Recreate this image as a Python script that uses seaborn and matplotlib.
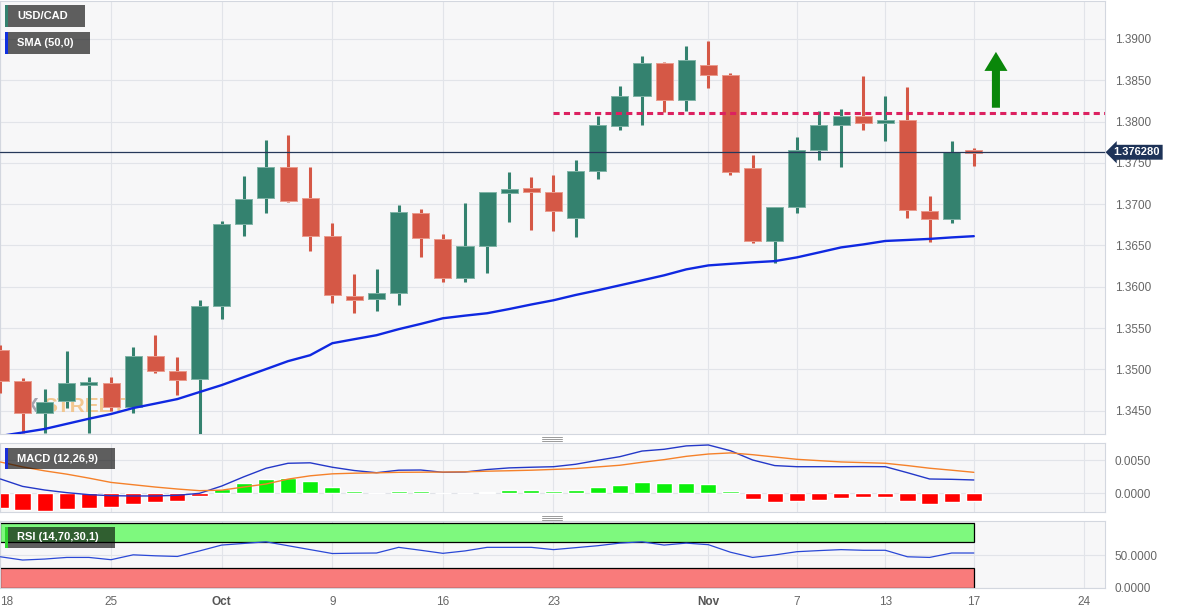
import matplotlib

matplotlib.use("Agg")
import matplotlib.pyplot as plt
import numpy as np
import seaborn as sns
from matplotlib.lines import Line2D
from matplotlib.patches import Rectangle

# --- daily USD/CAD, 18 Sep -> 17 Nov (trading days only) ---
tick_pos = [0, 5, 10, 15, 20, 25, 32, 36, 40, 44, 49]
tick_labels = ["18", "25", "Oct", "9", "16", "23", "Nov", "7", "13", "17", "24"]

opens = [1.35232, 1.34857, 1.34475, 1.34616, 1.34825, 1.34833, 1.34547, 1.35163, 1.34975, 1.34885,
         1.35767, 1.36762, 1.37071, 1.37446, 1.37076, 1.36609, 1.35888, 1.35856, 1.35929, 1.36890,
         1.36581, 1.36105, 1.36488, 1.37136, 1.37197, 1.37144, 1.36835, 1.37406, 1.37946, 1.38312,
         1.38707, 1.38263, 1.38690, 1.38562, 1.37438, 1.36552, 1.36971, 1.37656, 1.37958, 1.38070,
         1.37994, 1.38018, 1.36919, 1.36822, 1.37640]
highs = [1.35300, 1.34900, 1.34761, 1.35220, 1.34906, 1.34906, 1.35272, 1.35413, 1.35151, 1.35836,
         1.36790, 1.37345, 1.37780, 1.37841, 1.37454, 1.36774, 1.36158, 1.36219, 1.36992, 1.36935,
         1.36633, 1.37016, 1.37152, 1.37394, 1.37333, 1.37357, 1.37539, 1.38070, 1.38432, 1.38795,
         1.38722, 1.38915, 1.38976, 1.38586, 1.37599, 1.36971, 1.37816, 1.38130, 1.38151, 1.38545,
         1.38312, 1.38420, 1.37095, 1.37760, 1.37680]
lows = [1.34713, 1.34230, 1.34230, 1.34531, 1.34229, 1.34500, 1.34475, 1.34950, 1.34688, 1.34200,
        1.35606, 1.36612, 1.36895, 1.37023, 1.36431, 1.35803, 1.35687, 1.35707, 1.35784, 1.36359,
        1.36057, 1.36057, 1.36166, 1.36781, 1.36690, 1.36673, 1.36600, 1.37306, 1.37897, 1.37958,
        1.38118, 1.38130, 1.38405, 1.37354, 1.36528, 1.36291, 1.36890, 1.37539, 1.37454, 1.37901,
        1.37768, 1.36830, 1.36540, 1.36769, 1.37466]
closes = [1.34857, 1.34475, 1.34607, 1.34833, 1.34835, 1.34543, 1.35163, 1.34982, 1.34866, 1.35763,
          1.36754, 1.37064, 1.37446, 1.37043, 1.36612, 1.35900, 1.35836, 1.35920, 1.36902, 1.36593,
          1.36105, 1.36488, 1.37144, 1.37185, 1.37149, 1.36911, 1.37397, 1.37958, 1.38308, 1.38707,
          1.38263, 1.38746, 1.38565, 1.37394, 1.36552, 1.36963, 1.37651, 1.37953, 1.38070, 1.37977,
          1.38010, 1.36923, 1.36822, 1.37627, 1.37628]
sma50 = [1.34193, 1.34235, 1.34278, 1.34340, 1.34402, 1.34459, 1.34531, 1.34585, 1.34640, 1.34725,
         1.34809, 1.34906, 1.35002, 1.35099, 1.35171, 1.35316, 1.35365, 1.35413, 1.35486, 1.35550,
         1.35618, 1.35650, 1.35679, 1.35730, 1.35785, 1.35836, 1.35900, 1.35957, 1.36017, 1.36077,
         1.36138, 1.36210, 1.36258, 1.36277, 1.36295, 1.36310, 1.36355, 1.36415, 1.36476, 1.36512,
         1.36554, 1.36566, 1.36579, 1.36597, 1.36612]

macd = [0.00217, 0.00105, 0.00050, 0.00010, -0.00020, -0.00036, -0.00040, -0.00040, -0.00030, 0.00000,
        0.00110, 0.00250, 0.00379, 0.00455, 0.00462, 0.00395, 0.00345, 0.00312, 0.00350, 0.00353,
        0.00318, 0.00323, 0.00360, 0.00385, 0.00395, 0.00403, 0.00440, 0.00500, 0.00555, 0.00640,
        0.00667, 0.00718, 0.00732, 0.00645, 0.00505, 0.00420, 0.00403, 0.00403, 0.00403, 0.00405,
        0.00403, 0.00312, 0.00217, 0.00212, 0.00202]
signal = [0.00474, 0.00400, 0.00340, 0.00290, 0.00230, 0.00165, 0.00130, 0.00095, 0.00065, 0.00040,
          0.00048, 0.00095, 0.00141, 0.00215, 0.00265, 0.00295, 0.00305, 0.00310, 0.00318, 0.00320,
          0.00322, 0.00325, 0.00335, 0.00342, 0.00350, 0.00362, 0.00375, 0.00400, 0.00425, 0.00470,
          0.00510, 0.00560, 0.00595, 0.00612, 0.00585, 0.00550, 0.00515, 0.00495, 0.00475, 0.00465,
          0.00455, 0.00420, 0.00380, 0.00350, 0.00318]
hist = [-0.00223, -0.00253, -0.00264, -0.00242, -0.00217, -0.00203, -0.00162, -0.00127, -0.00112, -0.00036,
        0.00070, 0.00152, 0.00220, 0.00226, 0.00186, 0.00100, 0.00039, 0.00003, 0.00035, 0.00035,
        -0.00002, -0.00002, 0.00024, 0.00050, 0.00055, 0.00039, 0.00055, 0.00091, 0.00126, 0.00167,
        0.00152, 0.00156, 0.00136, 0.00039, -0.00086, -0.00132, -0.00121, -0.00097, -0.00067, -0.00061,
        -0.00052, -0.00112, -0.00162, -0.00132, -0.00112]
rsi = [48, 43, 44.5, 47, 47, 43.5, 51, 49.5, 48.5, 57,
       66, 68.5, 71, 65, 59, 53, 53.5, 53.8, 62.5, 58,
       53.3, 57, 62.5, 62.5, 62.5, 59, 62, 65, 69, 71,
       66, 69, 66.6, 55, 47, 50.8, 55.8, 57.5, 59, 58,
       58, 48, 47, 53.8, 53.8]

price_ticks = [1.3450, 1.3500, 1.3550, 1.3600, 1.3650, 1.3700, 1.3750, 1.3800, 1.3850, 1.3900]
resistance = 1.3810
last_price = 1.37628

GREEN = "#34826f"
RED = "#d55846"

sns.set_style("white")
plt.rcParams["font.family"] = ["Liberation Sans", "DejaVu Sans"]

W, H = 1182, 616
fig = plt.figure(figsize=(W / 100, H / 100), dpi=100)


def px_axes(x0, y0, x1, y1):
    return fig.add_axes([x0 / W, 1 - y1 / H, (x1 - x0) / W, (y1 - y0) / H])


ax_p = px_axes(0, 1, 1105, 434)
ax_m = px_axes(0, 443, 1105, 512)
ax_r = px_axes(0, 521, 1105, 588)
x_lim = (-0.02, 49.93)

for ax in (ax_p, ax_m, ax_r):
    ax.set_facecolor("#f7f7f8")
    ax.set_xlim(*x_lim)
    ax.set_xticks(tick_pos)
    ax.grid(True, color="#e2e4e9", lw=0.8)
    ax.set_axisbelow(True)
    ax.yaxis.tick_right()
    ax.tick_params(length=0, labelsize=8.5, labelcolor="#666666", pad=7)
    for s in ax.spines.values():
        s.set_color("#d3d7df")
        s.set_linewidth(0.8)

# --- price panel ---
idx = np.arange(len(opens))
o = np.array(opens)
c = np.array(closes)
up = c >= o
colors = np.where(up, GREEN, RED)
edges = np.where(up, "#7fb3a6", "#ea9a8c")
min_h = 0.00035
body_h = np.maximum(np.abs(c - o), min_h)
body_lo = np.where(np.abs(c - o) < min_h, (o + c) / 2 - min_h / 2, np.minimum(o, c))

ax_p.vlines(idx, lows, highs, colors=colors, lw=2.2, zorder=3)
ax_p.bar(idx, body_h, bottom=body_lo, width=0.77, color=colors, edgecolor=edges, lw=0.7, zorder=4)
sns.lineplot(x=idx, y=sma50, ax=ax_p, color="#0f28e1", lw=1.7, zorder=5)
ax_p.hlines(resistance, 25, x_lim[1], color="#dc2160", lw=2.2, linestyles=(0, (2, 1.4)), zorder=5)
ax_p.axhline(last_price, color="#263859", lw=0.9, zorder=6)

ax_p.set_ylim(1.34217, 1.39459)
ax_p.set_yticks(price_ticks, [f"{v:.4f}" for v in price_ticks])
ax_p.set_xticklabels([])
ax_p.set_xlabel("")
ax_p.set_ylabel("")

ax_p.annotate("1.376280", xy=(1.0, last_price), xycoords=("axes fraction", "data"),
              xytext=(23, 0), textcoords="offset points", ha="center", va="center",
              fontsize=8, fontweight="bold", color="white", annotation_clip=False, zorder=10,
              bbox=dict(boxstyle="larrow,pad=0.22", fc="#1e3358", ec="none"))

ax_p.annotate("", xy=(45, 1.38843), xytext=(45, 1.38167),
              arrowprops=dict(arrowstyle="simple,head_length=1.37,head_width=1.66,tail_width=0.58",
                              fc="#0a870a", ec="none", shrinkA=0, shrinkB=0, mutation_scale=10))

# watermark (mostly hidden behind the candles)
ax_p.text(0.55, 1.34480, "FX", color="#9a9aa6", fontsize=15, fontweight="bold",
          alpha=0.9, zorder=1, va="baseline")
ax_p.text(1.95, 1.34480, "STREET", color="#f2c286", fontsize=15, fontweight="bold",
          alpha=0.9, zorder=1, va="baseline")

# --- MACD panel ---
hist_arr = np.array(hist)
ax_m.bar(idx, hist_arr, width=0.73, color=np.where(hist_arr >= 0, "#0bef0b", "#ff0000"), zorder=2)
sns.lineplot(x=idx, y=macd, ax=ax_m, color="#2438c8", lw=1.0, zorder=3)
sns.lineplot(x=idx, y=signal, ax=ax_m, color="#f5812a", lw=1.0, zorder=3)
ax_m.set_ylim(-0.00283, 0.00762)
ax_m.set_yticks([0.0, 0.005], ["0.0000", "0.0050"])
ax_m.set_xticklabels([])
ax_m.set_xlabel("")
ax_m.set_ylabel("")

# --- RSI panel ---
ax_r.add_patch(Rectangle((x_lim[0], 70), 44 - x_lim[0], 30, fc="#7ef97e", ec="black", lw=0.9, zorder=1))
ax_r.add_patch(Rectangle((x_lim[0], 0), 44 - x_lim[0], 30, fc="#f97b7b", ec="black", lw=0.9, zorder=1))
sns.lineplot(x=idx, y=rsi, ax=ax_r, color="#2a48d6", lw=0.9, zorder=3)
ax_r.set_ylim(0, 103)
ax_r.set_yticks([0, 50], ["0.0000", "50.0000"])
ax_r.set_xticklabels(tick_labels)
ax_r.tick_params(axis="x", pad=6)
ax_r.set_xlabel("")
ax_r.set_ylabel("")
xlabs = ax_r.get_xticklabels()
xlabs[0].set_horizontalalignment("left")
for lab in xlabs:
    if lab.get_text() in ("Oct", "Nov"):
        lab.set_fontweight("bold")
        lab.set_color("#555555")


# --- indicator labels ---
def label_box(x0, y0, x1, y1, bar_color, text):
    fig.add_artist(Rectangle((x0 / W, 1 - y1 / H), (x1 - x0) / W, (y1 - y0) / H,
                             transform=fig.transFigure, fc=(0, 0, 0, 0.62), ec="none", zorder=5))
    fig.add_artist(Rectangle((x0 / W, 1 - y1 / H), 3 / W, (y1 - y0) / H,
                             transform=fig.transFigure, fc=bar_color, ec="none", zorder=6))
    fig.text((x0 + 12) / W, 1 - (y0 + y1) / 2 / H, text, color="white", fontsize=8,
             fontweight="bold", ha="left", va="center", zorder=7)


label_box(5, 5, 85, 27, GREEN, "USD/CAD")
label_box(5, 32, 90, 54, "#1030e0", "SMA (50,0)")
label_box(5, 448, 115, 469, "#1a2fd8", "MACD (12,26,9)")
label_box(5, 527, 115, 548, "#2fd42f", "RSI (14,70,30,1)")

# panel resize handles
for yy in (436.5, 515.5):
    for k in range(3):
        y = 1 - (yy + 2 * k) / H
        fig.add_artist(Line2D([542 / W, 562 / W], [y, y], color="#9a9a9a", lw=0.7))

fig.savefig("out.png", dpi=100, facecolor="white")
